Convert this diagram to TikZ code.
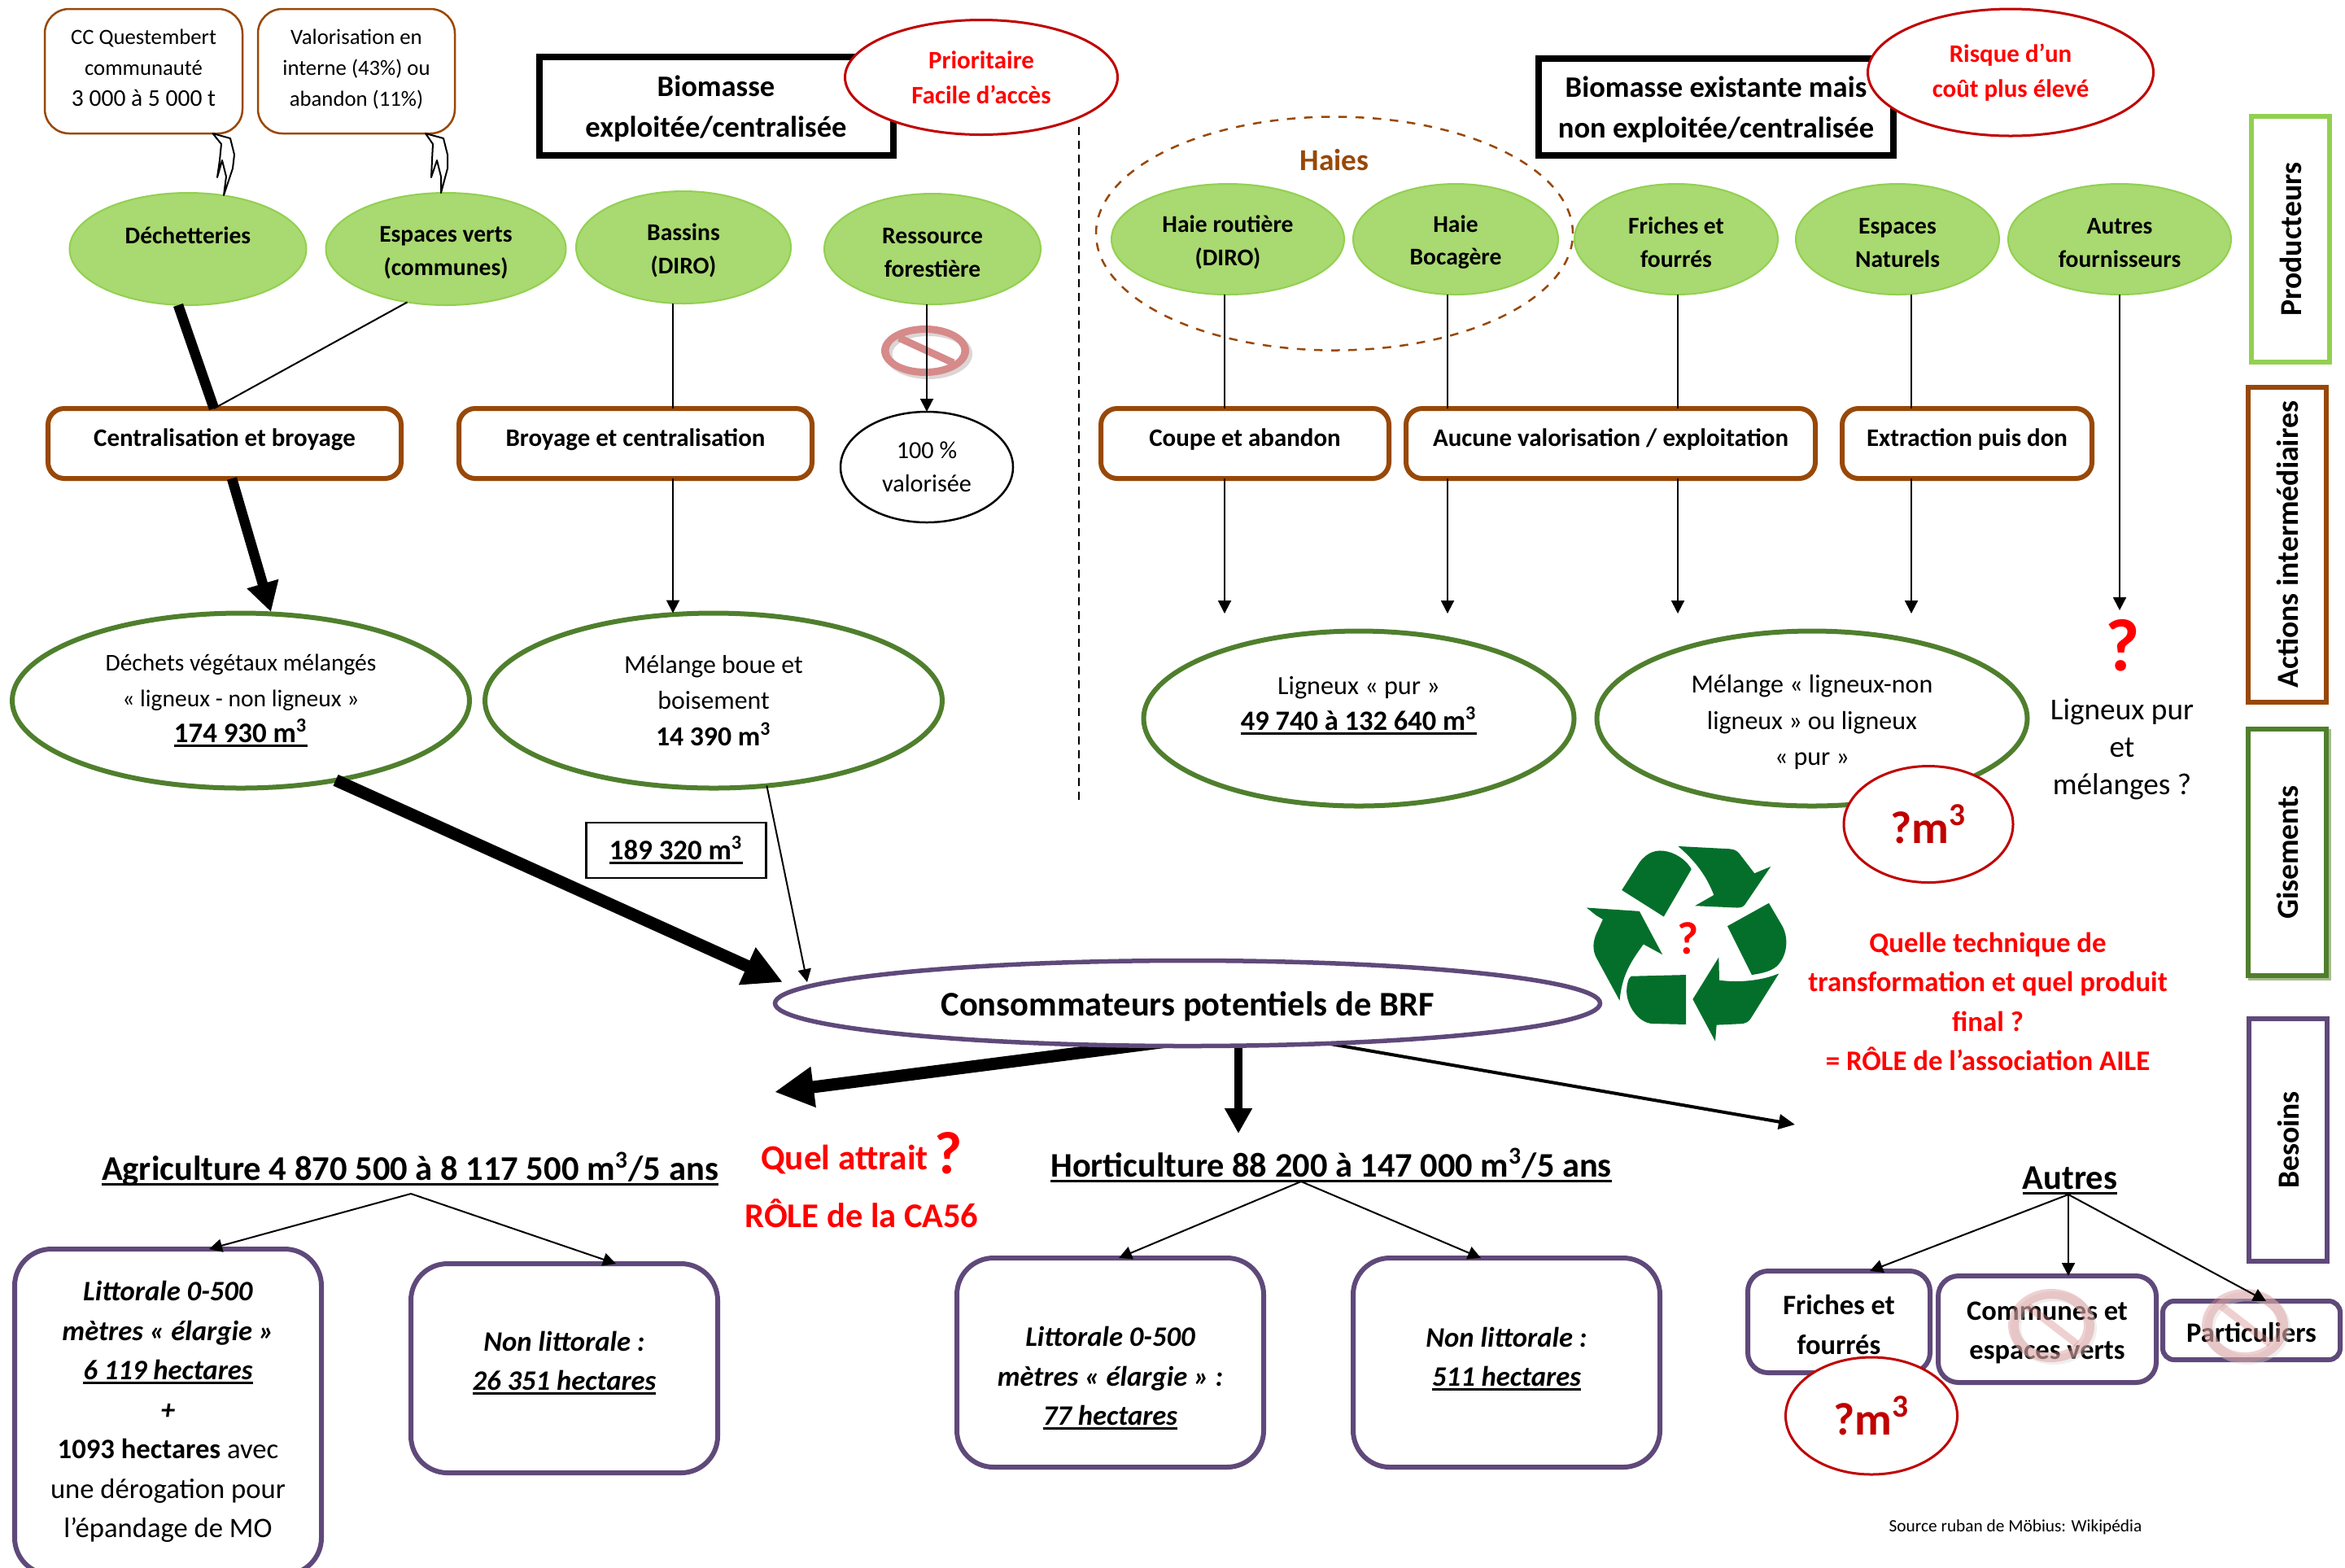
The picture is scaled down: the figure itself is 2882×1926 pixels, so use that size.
\documentclass[tikz,border=0pt]{standalone}
\usepackage{fontspec}
\setmainfont{Carlito}
\usetikzlibrary{arrows.meta,shapes.geometric}
\pgfdeclarelayer{bgw}\pgfdeclarelayer{conn}\pgfsetlayers{bgw,conn,main}
\definecolor{brn}{HTML}{984807}
\definecolor{lgr}{HTML}{A9D971}
\definecolor{lgrd}{HTML}{92D050}
\definecolor{dgr}{HTML}{4F7F2D}
\definecolor{shd}{HTML}{A9BA90}
\definecolor{pur}{HTML}{5F497A}
\definecolor{dred}{HTML}{C00000}
\definecolor{rcy}{HTML}{036F2B}
\definecolor{sgn}{HTML}{D68A8A}
\definecolor{sgs}{HTML}{DDD5D5}
\newcommand\fz[2]{\fontsize{#1}{#2}\selectfont}
\newsavebox\ulbox
\newcommand\ul[1]{\sbox\ulbox{#1}\leavevmode\rlap{\rule[-0.155em]{\wd\ulbox}{0.075em}}\usebox\ulbox}
\newcommand\sq{\textsuperscript{3}}
\newcommand\pl[2]{\mbox{}\\[-3.4pt]#1\\#2}
\newcommand\forbid[8]{% cx cy rx ry irx iry opacity shadow
 \begin{scope}[opacity=#7]
 \fill[sgs,even odd rule] (#1+#8,#2+#8) ellipse [x radius=#3,y radius=#4] (#1+#8,#2+#8) ellipse [x radius=#5,y radius=#6];
 \fill[sgn,even odd rule] (#1,#2) ellipse [x radius=#3,y radius=#4] (#1,#2) ellipse [x radius=#5,y radius=#6];
 \draw[sgn,line width=0.09cm] (#1-0.72*#5,#2-0.72*#6) -- (#1+0.78*#5,#2+0.68*#6);
 \end{scope}}
\tikzset{
 sz/.style 2 args={minimum width=#1*0.01cm,minimum height=#2*0.01cm,inner sep=0pt,outer sep=0pt},
 callout/.style={rectangle,rounded corners=0.3cm,draw=brn,line width=0.025cm,fill=white,align=center,font=\fz{7.6}{10.7}},
 prod/.style={ellipse,fill=lgr,draw=lgrd,line width=0.02cm,align=center,font=\fz{8.4}{11.5}\bfseries},
 act/.style={rectangle,rounded corners=0.2cm,draw=brn,line width=0.06cm,fill=white,align=center,font=\fz{8.8}{11.4}\bfseries,text height=6pt,text depth=3.8pt},
 gis/.style={ellipse,draw=dgr,line width=0.06cm,fill=white,align=center,font=\fz{8.4}{12.5}},
 need/.style={rectangle,rounded corners=0.45cm,draw=pur,line width=0.06cm,fill=white,align=center,font=\fz{9.85}{13.8}},
 needs/.style={rectangle,rounded corners=0.25cm,draw=pur,line width=0.06cm,fill=white,align=center,font=\fz{9.8}{13.8}\bfseries},
 title/.style={rectangle,draw=black,line width=0.08cm,fill=white,align=center,font=\fz{10.4}{14.2}\bfseries},
 rdell/.style={ellipse,draw=dred,line width=0.03cm,fill=white,align=center,text=red,font=\fz{8.8}{12.3}\bfseries},
 qm/.style={ellipse,draw=dred,line width=0.03cm,fill=white,text=dred,font=\fz{16}{16}\bfseries},
 sidebox/.style={rectangle,line width=0.06cm,fill=white,rotate=90,font=\fz{10.7}{12}\bfseries},
 lbl/.style={align=center,inner sep=0pt,outer sep=0pt},
 arr/.style={-{Triangle[width=0.16cm,length=0.16cm]},line width=0.02cm},
 lin/.style={line width=0.02cm},
 thk/.style={line width=0.125cm},
 thkarr/.style={-{Triangle[width=0.38cm,length=0.36cm]},line width=0.125cm},
}
\begin{document}
\begin{tikzpicture}[x=0.01cm,y=-0.01cm]
\useasboundingbox (0,0) rectangle (2882,1926);
\clip (0,0) rectangle (2882,1926);
\begin{pgfonlayer}{bgw}
\fill[white] (0,0) rectangle (2882,1926);
\end{pgfonlayer}
% helper x positions
\foreach \n/\v in {xa/827,xb/1139,xc/1505,xd/1779,xe/2062,xf/2349,xg/2605,xh/263,xi/219,xj/1522}{\coordinate (\n) at (\v,0);}
% dashed divider
\coordinate (dva) at (1326,156); \coordinate (dvb) at (1326,983);
\draw[line width=0.025cm,dash pattern=on 0.1cm off 0.07cm] (dva) -- (dvb);
% Haies
\node[ellipse,draw=brn,dashed,line width=0.025cm,sz={586}{287}] (haies) at (1640,287) {};
\node[lbl,text=brn,font=\fz{10.6}{12}\bfseries] (haiest) at (1640,197) {Haies};
% callouts
\node[callout,sz={243}{153}] (c1) at (176.5,87.5) {CC Questembert\\communauté\\{\fz{8.4}{10.7}3 000 à 5 000 t}\\[-8.2pt]\mbox{}};
\node[callout,sz={242}{153}] (c2) at (438,87.5) {Valorisation en\\interne (43\%) ou\\abandon (11\%)\\[-8.2pt]\mbox{}};
% producers
\node[prod,sz={291}{138}] (dech) at (231,306) {Déchetteries\\[-2pt]\mbox{}};
\node[prod,sz={295}{138}] (ev) at (548,306) {\pl{Espaces verts}{(communes)}};
\node[prod,sz={264}{138}] (bas) at (840,304) {\pl{Bassins}{(DIRO)}};
\node[prod,sz={266}{136}] (res) at (1146,306) {\pl{Ressource}{forestière}};
\node[prod,sz={286}{136}] (hr) at (1509,294) {\pl{Haie routière}{(DIRO)}};
\node[prod,sz={252}{136}] (hb) at (1789,294) {\pl{Haie}{Bocagère}};
\node[prod,sz={250}{136}] (ff) at (2060,294) {\pl{Friches et}{fourrés}};
\node[prod,sz={250}{136}] (en) at (2332,294) {\pl{Espaces}{Naturels}};
\node[prod,sz={274}{136}] (af) at (2605,294) {\pl{Autres}{fournisseurs}};
% tails
\draw[line width=0.02cm,line join=round] (c1.-42) -- (272,177) -- (270,197) -- (267,218) -- (273,197) -- (278,217) -- (275,240) -- (286,207) -- (288,190) -- (283,170) -- cycle;
\draw[line width=0.02cm,line join=round] (c2.-42) -- (532,177) -- (531,197) -- (530,218) -- (537,197) -- (542,217) -- (542,237) -- (550,207) -- (550,190) -- (545,170) -- cycle;
% actions
\node[act,sz={434}{86}] (cb) at (276,545) {Centralisation et broyage};
\node[act,sz={434}{86}] (bc) at (781,545) {Broyage et centralisation};
\node[act,sz={354}{86}] (ca) at (1530,545) {Coupe et abandon};
\node[act,sz={503}{86}] (av) at (1979.5,545) {Aucune valorisation / exploitation};
\node[act,sz={307}{86}] (ed) at (2417.5,545) {Extraction puis don};
% gisements
\node[gis,sz={562}{215}] (g1) at (296,861) {Déchets végétaux mélangés\\« ligneux - non ligneux »\\{\fz{9.9}{12.5}\bfseries\ul{174 930 m\sq}}};
\node[gis,sz={562}{215},font=\fz{9.05}{12.6}] (g2) at (877,861) {Mélange boue et\\boisement\\{\fz{9.6}{12.6}\bfseries 14 390 m\sq}};
\node[gis,sz={529}{215},font=\fz{9.15}{12.6}] (g3) at (1670,883) {Ligneux « pur »\\{\fz{9.8}{12.6}\bfseries\ul{49 740 à 132 640 m\sq}}\\[-1.9pt]\mbox{}};
\node[gis,sz={529}{215},font=\fz{9.1}{12.6}] (g4) at (2227,883) {\mbox{}\\[-3.7pt]Mélange « ligneux-non\\ligneux » ou ligneux\\« pur »};
\node[ellipse,draw,line width=0.025cm,sz={212}{136},align=center,font=\fz{8.6}{11.7}] (cent) at (1139,574) {100 \%\\valorisée};
% connectors top
\forbid{1137}{431}{54}{31}{44.5}{22}{1}{4}
\draw[thk] (dech.south -| xi) -- (cb.north -| xh);
\draw[lin] (ev.-126) -- (cb.north -| xh);
\coordinate (gtip) at (333,752);
\draw[thkarr] (cb.south -| 285,0) -- (gtip);
\draw[lin] (bas.south -| xa) -- (bc.north -| xa);
\draw[arr] (bc.south -| xa) -- (xa |- g2.north);
\draw[arr] (res.south -| xb) -- (cent.north);
\draw[lin] (hr.south -| xc) -- (ca.north -| xc);
\draw[arr] (ca.south -| xc) -- (xc |- 0,754);
\draw[lin] (hb.south -| xd) -- (av.north -| xd);
\draw[arr] (av.south -| xd) -- (xd |- 0,754);
\draw[lin] (ff.south -| xe) -- (av.north -| xe);
\draw[arr] (av.south -| xe) -- (xe |- 0,754);
\draw[lin] (en.south -| xf) -- (ed.north -| xf);
\draw[arr] (ed.south -| xf) -- (xf |- 0,754);
\draw[arr] (af.south) -- (xg |- 0,750);
% titles
\node[title,sz={435}{121}] (t1) at (880,130.5) {\mbox{}\\[-5.1pt]Biomasse\\exploitée/centralisée};
\node[title,sz={436}{119}] (t2) at (2109,131.5) {\mbox{}\\[-5.1pt]Biomasse existante mais\\non exploitée/centralisée};
\node[rdell,sz={335}{141}] (r1) at (1206,95) {Prioritaire\\Facile d’accès};
\node[rdell,sz={351}{156}] (r2) at (2471,89) {Risque d’un\\coût plus élevé};
% side boxes
\fill[shd] (2763,896) rectangle (2865,1205);
\node[sidebox,draw=lgrd,sz={302}{96}] (s1) at (2815,294) {Producteurs};
\node[sidebox,draw=brn,sz={387}{96}] (s2) at (2811,669) {Actions intermédiaires};
\node[sidebox,draw=dgr,sz={303}{96}] (s3) at (2811,1047.5) {Gisements};
\node[sidebox,draw=pur,sz={298}{96}] (s4) at (2812,1401) {Besoins};
% lower
\node[qm,sz={208}{143}] (q1) at (2370,1013) {?m\sq};
\node[lbl,text=red,font=\fz{26}{26}\bfseries] (qq) at (2609,793) {?};
\node[lbl,font=\fz{10.6}{13}] (lpm) at (2608,921) {Ligneux pur\\et\\mélanges ?};
\node[rectangle,draw,line width=0.025cm,sz={221}{68},font=\fz{9.9}{11}\bfseries] (tot) at (831,1045) {\ul{189 320 m\sq}};
\node[ellipse,draw=pur,line width=0.055cm,fill=white,sz={1014}{105},font=\fz{12.1}{13}\bfseries,text height=9.5pt,text depth=0.9pt] (cons) at (1459.5,1233) {Consommateurs potentiels de BRF};
\coordinate (tip1) at (962,1207); \coordinate (tip2) at (992,1207); \coordinate (tip3) at (952,1342); \coordinate (tip4) at (1522,1393); \coordinate (tip5) at (2206,1382);
\draw[-{Triangle[width=0.47cm,length=0.48cm]},line width=0.15cm] (g1.-40) -- (tip1);
\draw[arr] (g2.-58) -- (tip2);
\begin{pgfonlayer}{conn}
\draw[-{Triangle[width=0.47cm,length=0.48cm]},line width=0.15cm] (cons.center -| 1450,0) ++(0,45) -- (tip3);
\draw[-{Triangle[width=0.32cm,length=0.31cm]},line width=0.1cm] (cons.south -| xj) ++(0,-10) -- (tip4);
\draw[-{Triangle[width=0.18cm,length=0.2cm]},line width=0.04cm] (cons.-16) -- (tip5);
\end{pgfonlayer}
% recycle
\begin{scope}[shift={(1900,1020)},x=0.003333cm,y=-0.003333cm]
\fill[rcy] (280,222) -- (345,120) .. controls (375,80) and (410,70) .. (450,80) .. controls (490,90) and (525,120) .. (537,145) -- (435,320) -- cycle;
\fill[rcy] (488,60) -- (680,70) .. controls (700,72) and (710,80) .. (720,95) -- (770,160) -- (830,135) -- (735,275) .. controls (728,284) and (720,287) .. (705,287) -- (550,280) -- (620,240) .. controls (600,190) and (570,130) .. (488,60) -- cycle;
\fill[rcy] (670,355) -- (823,270) -- (870,350) .. controls (900,400) and (890,470) .. (850,505) .. controls (825,525) and (790,530) .. (760,535) -- cycle;
\fill[rcy] (638,470) -- (640,555) .. controls (720,565) and (800,555) .. (860,530) -- (760,690) .. controls (750,708) and (740,715) .. (715,716) -- (630,720) -- (625,780) -- (542,625) -- cycle;
\fill[rcy] (517,535) -- (517,718) -- (390,715) .. controls (340,710) and (300,650) .. (298,600) .. controls (297,570) and (305,545) .. (315,540) -- cycle;
\fill[rcy] (150,287) -- (345,300) -- (430,460) -- (360,422) .. controls (310,490) and (280,540) .. (272,630) -- (185,470) .. controls (170,440) and (175,410) .. (185,385) -- (210,330) -- (185,315) -- cycle;
\end{scope}
\node[lbl,text=red,font=\fz{16}{16}\bfseries] (rq) at (2075,1153) {?};
\node[lbl,text=red,font=\fz{9.9}{13.8}\bfseries] (qt) at (2443,1231) {Quelle technique de\\transformation et quel produit\\final ?\\= RÔLE de l’association AILE};
\node[lbl,font=\fz{12.1}{13}\bfseries] (agr) at (504,1436.5) {\ul{Agriculture 4 870 500 à 8 117 500 m\sq/5 ans}};
\node[lbl,font=\fz{12.05}{13}\bfseries] (hor) at (1636,1432) {\ul{Horticulture 88 200 à 147 000 m\sq/5 ans}};
\node[lbl,font=\fz{12.1}{13}\bfseries] (aut) at (2544,1451) {\ul{Autres}};
\node[lbl,text=red,font=\fz{12.3}{13}\bfseries] (qa) at (1038,1425) {Quel attrait};
\node[lbl,text=red,font=\fz{21}{21}\bfseries] (qa2) at (1166,1417) {?};
\node[lbl,text=red,font=\fz{12.1}{13}\bfseries] (ca56) at (1059,1491) {RÔLE de la CA56};
% needs
\node[need,sz={377}{400}] (n1) at (206.5,1735) {\textbf{\textit{Littorale 0-500}}\\\textbf{\textit{mètres « élargie »}}\\\textbf{\textit{\ul{6 119 hectares}}}\\\textbf{\textit{+}}\\\textbf{1093 hectares} avec\\une dérogation pour\\l’épandage de MO};
\node[need,sz={377}{257},font=\fz{9.85}{13.8}\bfseries\itshape] (n2) at (693.5,1681.5) {Non littorale :\\\ul{26 351 hectares}\\[-8.5pt]\mbox{}};
\node[need,sz={377}{257},font=\fz{9.85}{13.8}\bfseries\itshape] (n3) at (1364.5,1674.5) {\mbox{}\\[4pt]Littorale 0-500\\mètres « élargie » :\\\ul{77 hectares}};
\node[need,sz={377}{257},font=\fz{9.85}{13.8}\bfseries\itshape] (n4) at (1851.5,1674.5) {Non littorale :\\\ul{511 hectares}\\[-9.6pt]\mbox{}};
\node[needs,sz={224}{125}] (n5) at (2260,1624.5) {\mbox{}\\[-4.8pt]Friches et\\fourrés};
\node[needs,sz={268}{131}] (n6) at (2516,1633.5) {\mbox{}\\[-4.8pt]Communes et\\espaces verts};
\node[needs,sz={218}{72},rounded corners=0.14cm,text height=8pt,text depth=0pt] (n7) at (2767,1635) {Particuliers};
\node[qm,sz={211}{144}] (q2) at (2300,1740) {?m\sq};
\forbid{2521}{1629}{53}{45}{40}{33}{0.4}{3}
\forbid{2759}{1629}{53}{45}{40}{33}{0.4}{3}
\coordinate (ag) at (505,1467); \coordinate (ho) at (1599,1452); \coordinate (au) at (2542,1468);
\coordinate (xk) at (2298,0);
\draw[arr] (ag) -- (n1.north -| 257,0);
\draw[arr] (ag) -- (n2.north -| 757,0);
\draw[arr] (ho) -- (n3.north -| 1375,0);
\draw[arr] (ho) -- (n4.north -| 1820,0);
\draw[arr] (au) -- (n5.north -| xk);
\draw[arr] (au) -- (n6.north -| au);
\draw[arr] (au) -- (n7.north -| 2785,0);
\node[lbl,font=\fz{6.07}{7}] (src) at (2477,1877) {Source ruban de Möbius: Wikipédia};
\end{tikzpicture}
\end{document}
